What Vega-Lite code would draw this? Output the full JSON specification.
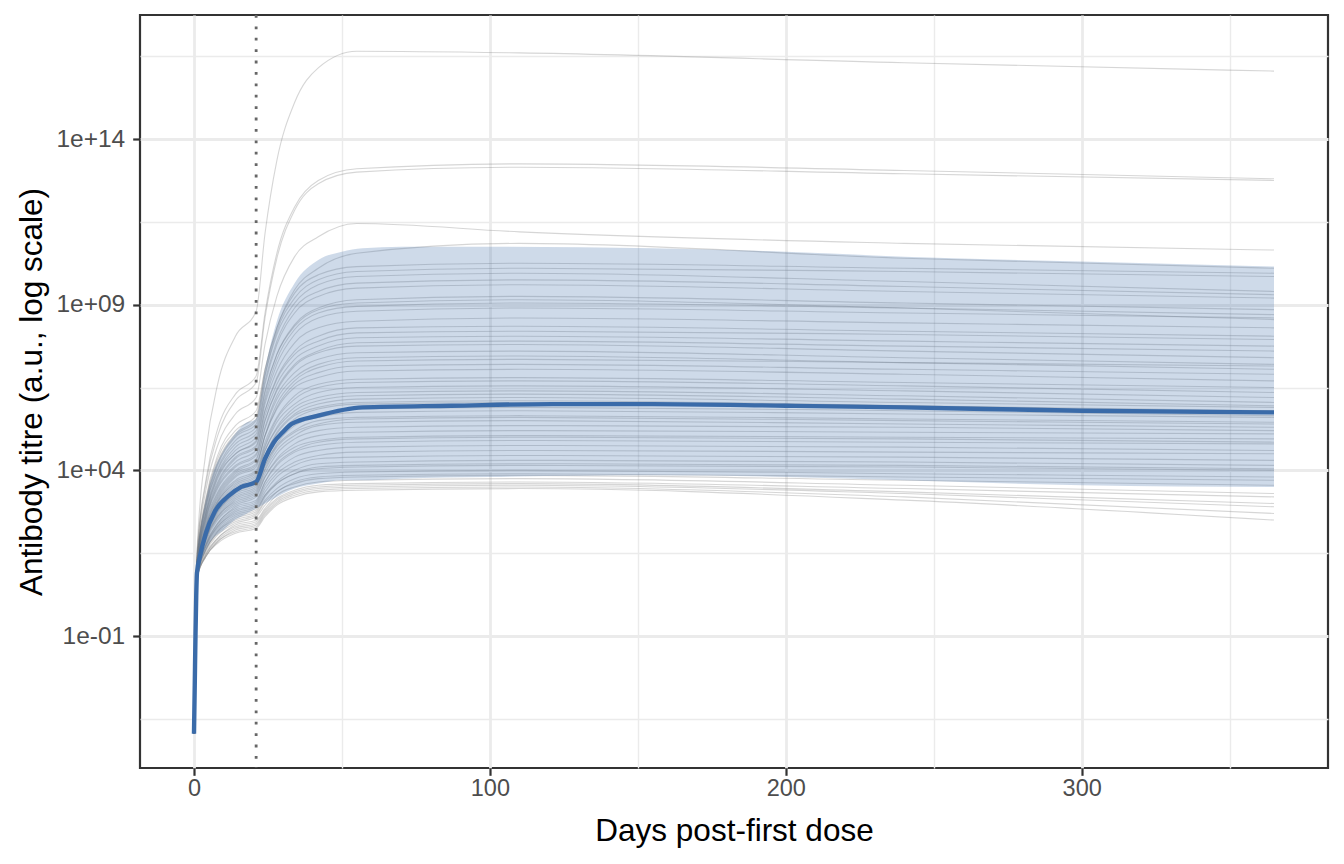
{
"$schema":"https://vega.github.io/schema/vega-lite/v6.json",
"width":1188,"height":753,
"autosize":{"type":"none"},
"padding":{"left":140,"top":15,"right":16,"bottom":96},
"background":"white",
"config":{
 "view":{"stroke":"#333333","strokeWidth":2.2},
 "font":"Liberation Sans",
 "axis":{"domain":false,"grid":true,"gridColor":"#EBEBEB","tickColor":"#333333","tickWidth":2.2,"tickSize":7.3,"labelColor":"#4D4D4D","labelFont":"Liberation Sans","labelFontSize":23.5,"titleFont":"Liberation Sans","titleFontSize":31.5,"titleFontWeight":"normal","titleColor":"#000000","labelOverlap":false,"labelFlush":false},
 "axisX":{"labelPadding":1,"titlePadding":16},
 "axisY":{"labelPadding":8,"titlePadding":7,"labelFontSize":24.5}
},
"datasets":{
"lines":[
{"id":1,"day":0,"titre":1.12e-4},{"id":1,"day":1,"titre":3.16e1},{"id":1,"day":4,"titre":3.55e4},{"id":1,"day":8,"titre":3.98e6},{"id":1,"day":14,"titre":1.12e8},{"id":1,"day":21,"titre":6.31e8},{"id":1,"day":24,"titre":1.41e11},{"id":1,"day":28,"titre":2.24e13},{"id":1,"day":34,"titre":1.26e15},{"id":1,"day":42,"titre":1.41e16},{"id":1,"day":55,"titre":4.47e16},{"id":1,"day":110,"titre":3.98e16},{"id":1,"day":240,"titre":2e16},{"id":1,"day":365,"titre":1.12e16},
{"id":2,"day":0,"titre":1.12e-4},{"id":2,"day":1,"titre":2.82e1},{"id":2,"day":4,"titre":5.01e3},{"id":2,"day":8,"titre":1.78e5},{"id":2,"day":14,"titre":2e6},{"id":2,"day":21,"titre":7.08e6},{"id":2,"day":24,"titre":5.62e8},{"id":2,"day":28,"titre":3.55e10},{"id":2,"day":34,"titre":8.91e11},{"id":2,"day":42,"titre":5.62e12},{"id":2,"day":55,"titre":1.26e13},{"id":2,"day":110,"titre":1.78e13},{"id":2,"day":240,"titre":1.12e13},{"id":2,"day":365,"titre":6.31e12},
{"id":3,"day":0,"titre":1.12e-4},{"id":3,"day":1,"titre":2.51e1},{"id":3,"day":4,"titre":3.98e3},{"id":3,"day":8,"titre":1.12e5},{"id":3,"day":14,"titre":1.26e6},{"id":3,"day":21,"titre":4.47e6},{"id":3,"day":24,"titre":3.98e8},{"id":3,"day":28,"titre":2.51e10},{"id":3,"day":34,"titre":7.08e11},{"id":3,"day":42,"titre":4.47e12},{"id":3,"day":55,"titre":1e13},{"id":3,"day":110,"titre":1.41e13},{"id":3,"day":240,"titre":8.91e12},{"id":3,"day":365,"titre":5.62e12},
{"id":4,"day":0,"titre":1.12e-4},{"id":4,"day":1,"titre":2.24e1},{"id":4,"day":4,"titre":2.51e3},{"id":4,"day":8,"titre":5.62e4},{"id":4,"day":14,"titre":5.01e5},{"id":4,"day":21,"titre":1.58e6},{"id":4,"day":24,"titre":6.31e7},{"id":4,"day":28,"titre":1.78e9},{"id":4,"day":34,"titre":2.82e10},{"id":4,"day":42,"titre":1.12e11},{"id":4,"day":55,"titre":2.82e11},{"id":4,"day":110,"titre":1.58e11},{"id":4,"day":240,"titre":7.08e10},{"id":4,"day":365,"titre":4.47e10},
{"id":5,"day":0,"titre":1.12e-4},{"id":5,"day":1,"titre":1.78e1},{"id":5,"day":4,"titre":1.41e3},{"id":5,"day":8,"titre":2.82e4},{"id":5,"day":14,"titre":2.24e5},{"id":5,"day":21,"titre":6.31e5},{"id":5,"day":24,"titre":1.12e7},{"id":5,"day":28,"titre":2e8},{"id":5,"day":34,"titre":2.82e9},{"id":5,"day":42,"titre":1.26e10},{"id":5,"day":55,"titre":3.55e10},{"id":5,"day":110,"titre":7.08e10},{"id":5,"day":240,"titre":2.51e10},{"id":5,"day":365,"titre":1.26e10},
{"id":6,"day":0,"titre":1.12e-4},{"id":6,"day":1,"titre":1.78e1},{"id":6,"day":4,"titre":1.26e3},{"id":6,"day":8,"titre":2.24e4},{"id":6,"day":14,"titre":1.58e5},{"id":6,"day":21,"titre":4.47e5},{"id":6,"day":24,"titre":1.12e7},{"id":6,"day":28,"titre":2e8},{"id":6,"day":34,"titre":2.24e9},{"id":6,"day":42,"titre":7.94e9},{"id":6,"day":55,"titre":1.41e10},{"id":6,"day":110,"titre":1.78e10},{"id":6,"day":240,"titre":1.26e10},{"id":6,"day":365,"titre":8.91e9},
{"id":7,"day":0,"titre":1.12e-4},{"id":7,"day":1,"titre":1.78e1},{"id":7,"day":4,"titre":1.12e3},{"id":7,"day":8,"titre":1.78e4},{"id":7,"day":14,"titre":1.26e5},{"id":7,"day":21,"titre":3.55e5},{"id":7,"day":24,"titre":7.94e6},{"id":7,"day":28,"titre":1.58e8},{"id":7,"day":34,"titre":1.58e9},{"id":7,"day":42,"titre":5.62e9},{"id":7,"day":55,"titre":1e10},{"id":7,"day":110,"titre":1.26e10},{"id":7,"day":240,"titre":1e10},{"id":7,"day":365,"titre":7.08e9},
{"id":8,"day":0,"titre":1.12e-4},{"id":8,"day":1,"titre":1.58e1},{"id":8,"day":4,"titre":1e3},{"id":8,"day":8,"titre":1.58e4},{"id":8,"day":14,"titre":1.12e5},{"id":8,"day":21,"titre":3.16e5},{"id":8,"day":24,"titre":7.08e6},{"id":8,"day":28,"titre":1.26e8},{"id":8,"day":34,"titre":1.12e9},{"id":8,"day":42,"titre":3.98e9},{"id":8,"day":55,"titre":7.08e9},{"id":8,"day":110,"titre":8.91e9},{"id":8,"day":240,"titre":5.01e9},{"id":8,"day":365,"titre":2.51e9},
{"id":9,"day":0,"titre":1.12e-4},{"id":9,"day":1,"titre":1.58e1},{"id":9,"day":4,"titre":8.91e2},{"id":9,"day":8,"titre":1.41e4},{"id":9,"day":14,"titre":1e5},{"id":9,"day":21,"titre":2.51e5},{"id":9,"day":24,"titre":5.01e6},{"id":9,"day":28,"titre":7.94e7},{"id":9,"day":34,"titre":7.94e8},{"id":9,"day":42,"titre":2.51e9},{"id":9,"day":55,"titre":4.47e9},{"id":9,"day":110,"titre":5.62e9},{"id":9,"day":240,"titre":3.55e9},{"id":9,"day":365,"titre":2e9},
{"id":10,"day":0,"titre":1.12e-4},{"id":10,"day":1,"titre":1.58e1},{"id":10,"day":4,"titre":7.94e2},{"id":10,"day":8,"titre":1.12e4},{"id":10,"day":14,"titre":7.94e4},{"id":10,"day":21,"titre":2e5},{"id":10,"day":24,"titre":3.98e6},{"id":10,"day":28,"titre":6.31e7},{"id":10,"day":34,"titre":5.62e8},{"id":10,"day":42,"titre":1.78e9},{"id":10,"day":55,"titre":3.16e9},{"id":10,"day":110,"titre":3.98e9},{"id":10,"day":240,"titre":2.51e9},{"id":10,"day":365,"titre":1.58e9},
{"id":11,"day":0,"titre":1.12e-4},{"id":11,"day":1,"titre":1.41e1},{"id":11,"day":4,"titre":6.31e2},{"id":11,"day":8,"titre":7.94e3},{"id":11,"day":14,"titre":5.01e4},{"id":11,"day":21,"titre":1.26e5},{"id":11,"day":24,"titre":2.24e6},{"id":11,"day":28,"titre":3.16e7},{"id":11,"day":34,"titre":2.51e8},{"id":11,"day":42,"titre":7.94e8},{"id":11,"day":55,"titre":1.41e9},{"id":11,"day":110,"titre":1.78e9},{"id":11,"day":240,"titre":1.12e9},{"id":11,"day":365,"titre":7.08e8},
{"id":12,"day":0,"titre":1.12e-4},{"id":12,"day":1,"titre":1.58e1},{"id":12,"day":4,"titre":7.94e2},{"id":12,"day":8,"titre":1e4},{"id":12,"day":14,"titre":6.31e4},{"id":12,"day":21,"titre":1.58e5},{"id":12,"day":24,"titre":2.51e6},{"id":12,"day":28,"titre":3.16e7},{"id":12,"day":34,"titre":2.24e8},{"id":12,"day":42,"titre":7.08e8},{"id":12,"day":55,"titre":1.12e9},{"id":12,"day":110,"titre":1.41e9},{"id":12,"day":240,"titre":7.94e8},{"id":12,"day":365,"titre":3.55e8},
{"id":13,"day":0,"titre":1.12e-4},{"id":13,"day":1,"titre":1.41e1},{"id":13,"day":4,"titre":5.62e2},{"id":13,"day":8,"titre":7.08e3},{"id":13,"day":14,"titre":3.98e4},{"id":13,"day":21,"titre":1e5},{"id":13,"day":24,"titre":1.58e6},{"id":13,"day":28,"titre":2.24e7},{"id":13,"day":34,"titre":1.78e8},{"id":13,"day":42,"titre":5.62e8},{"id":13,"day":55,"titre":8.91e8},{"id":13,"day":110,"titre":1.12e9},{"id":13,"day":240,"titre":7.94e8},{"id":13,"day":365,"titre":5.01e8},
{"id":14,"day":0,"titre":1.12e-4},{"id":14,"day":1,"titre":1.41e1},{"id":14,"day":4,"titre":5.01e2},{"id":14,"day":8,"titre":6.31e3},{"id":14,"day":14,"titre":3.16e4},{"id":14,"day":21,"titre":7.94e4},{"id":14,"day":24,"titre":1.26e6},{"id":14,"day":28,"titre":1.58e7},{"id":14,"day":34,"titre":1.26e8},{"id":14,"day":42,"titre":3.98e8},{"id":14,"day":55,"titre":6.31e8},{"id":14,"day":110,"titre":7.94e8},{"id":14,"day":240,"titre":5.62e8},{"id":14,"day":365,"titre":3.98e8},
{"id":15,"day":0,"titre":1.12e-4},{"id":15,"day":1,"titre":1.41e1},{"id":15,"day":4,"titre":5.01e2},{"id":15,"day":8,"titre":5.62e3},{"id":15,"day":14,"titre":3.16e4},{"id":15,"day":21,"titre":7.08e4},{"id":15,"day":24,"titre":1e6},{"id":15,"day":28,"titre":1e7},{"id":15,"day":34,"titre":7.08e7},{"id":15,"day":42,"titre":2e8},{"id":15,"day":55,"titre":3.16e8},{"id":15,"day":110,"titre":3.98e8},{"id":15,"day":240,"titre":2.82e8},{"id":15,"day":365,"titre":2e8},
{"id":16,"day":0,"titre":1.12e-4},{"id":16,"day":1,"titre":1.26e1},{"id":16,"day":4,"titre":3.98e2},{"id":16,"day":8,"titre":3.98e3},{"id":16,"day":14,"titre":2.24e4},{"id":16,"day":21,"titre":5.01e4},{"id":16,"day":24,"titre":6.31e5},{"id":16,"day":28,"titre":6.31e6},{"id":16,"day":34,"titre":3.98e7},{"id":16,"day":42,"titre":1.12e8},{"id":16,"day":55,"titre":2e8},{"id":16,"day":110,"titre":2.24e8},{"id":16,"day":240,"titre":1.58e8},{"id":16,"day":365,"titre":1.12e8},
{"id":17,"day":0,"titre":1.12e-4},{"id":17,"day":1,"titre":1.26e1},{"id":17,"day":4,"titre":4.47e2},{"id":17,"day":8,"titre":4.47e3},{"id":17,"day":14,"titre":2.51e4},{"id":17,"day":21,"titre":5.62e4},{"id":17,"day":24,"titre":6.31e5},{"id":17,"day":28,"titre":5.62e6},{"id":17,"day":34,"titre":3.16e7},{"id":17,"day":42,"titre":7.94e7},{"id":17,"day":55,"titre":1.41e8},{"id":17,"day":110,"titre":1.58e8},{"id":17,"day":240,"titre":1.26e8},{"id":17,"day":365,"titre":8.91e7},
{"id":18,"day":0,"titre":1.12e-4},{"id":18,"day":1,"titre":1.26e1},{"id":18,"day":4,"titre":3.55e2},{"id":18,"day":8,"titre":3.55e3},{"id":18,"day":14,"titre":1.78e4},{"id":18,"day":21,"titre":3.98e4},{"id":18,"day":24,"titre":4.47e5},{"id":18,"day":28,"titre":3.98e6},{"id":18,"day":34,"titre":2.24e7},{"id":18,"day":42,"titre":5.62e7},{"id":18,"day":55,"titre":1e8},{"id":18,"day":110,"titre":1.12e8},{"id":18,"day":240,"titre":7.94e7},{"id":18,"day":365,"titre":5.62e7},
{"id":19,"day":0,"titre":1.12e-4},{"id":19,"day":1,"titre":1.12e1},{"id":19,"day":4,"titre":3.16e2},{"id":19,"day":8,"titre":2.82e3},{"id":19,"day":14,"titre":1.26e4},{"id":19,"day":21,"titre":2.82e4},{"id":19,"day":24,"titre":3.16e5},{"id":19,"day":28,"titre":2.82e6},{"id":19,"day":34,"titre":1.58e7},{"id":19,"day":42,"titre":3.98e7},{"id":19,"day":55,"titre":7.08e7},{"id":19,"day":110,"titre":7.94e7},{"id":19,"day":240,"titre":5.62e7},{"id":19,"day":365,"titre":3.98e7},
{"id":20,"day":0,"titre":1.12e-4},{"id":20,"day":1,"titre":1.26e1},{"id":20,"day":4,"titre":3.55e2},{"id":20,"day":8,"titre":3.16e3},{"id":20,"day":14,"titre":1.41e4},{"id":20,"day":21,"titre":3.16e4},{"id":20,"day":24,"titre":3.16e5},{"id":20,"day":28,"titre":2.51e6},{"id":20,"day":34,"titre":1.41e7},{"id":20,"day":42,"titre":3.55e7},{"id":20,"day":55,"titre":5.62e7},{"id":20,"day":110,"titre":6.31e7},{"id":20,"day":240,"titre":3.98e7},{"id":20,"day":365,"titre":2.51e7},
{"id":21,"day":0,"titre":1.12e-4},{"id":21,"day":1,"titre":1.12e1},{"id":21,"day":4,"titre":2.82e2},{"id":21,"day":8,"titre":2.24e3},{"id":21,"day":14,"titre":1e4},{"id":21,"day":21,"titre":2.24e4},{"id":21,"day":24,"titre":2e5},{"id":21,"day":28,"titre":1.78e6},{"id":21,"day":34,"titre":8.91e6},{"id":21,"day":42,"titre":2.24e7},{"id":21,"day":55,"titre":3.55e7},{"id":21,"day":110,"titre":3.98e7},{"id":21,"day":240,"titre":2.51e7},{"id":21,"day":365,"titre":1.58e7},
{"id":22,"day":0,"titre":1.12e-4},{"id":22,"day":1,"titre":1.12e1},{"id":22,"day":4,"titre":2.51e2},{"id":22,"day":8,"titre":2e3},{"id":22,"day":14,"titre":8.91e3},{"id":22,"day":21,"titre":2e4},{"id":22,"day":24,"titre":1.78e5},{"id":22,"day":28,"titre":1.41e6},{"id":22,"day":34,"titre":6.31e6},{"id":22,"day":42,"titre":1.58e7},{"id":22,"day":55,"titre":2.51e7},{"id":22,"day":110,"titre":2.82e7},{"id":22,"day":240,"titre":1.78e7},{"id":22,"day":365,"titre":1.12e7},
{"id":23,"day":0,"titre":1.12e-4},{"id":23,"day":1,"titre":1e1},{"id":23,"day":4,"titre":2e2},{"id":23,"day":8,"titre":1.41e3},{"id":23,"day":14,"titre":6.31e3},{"id":23,"day":21,"titre":1.26e4},{"id":23,"day":24,"titre":1.12e5},{"id":23,"day":28,"titre":1e6},{"id":23,"day":34,"titre":5.01e6},{"id":23,"day":42,"titre":1.26e7},{"id":23,"day":55,"titre":2e7},{"id":23,"day":110,"titre":2.24e7},{"id":23,"day":240,"titre":1.78e7},{"id":23,"day":365,"titre":1.41e7},
{"id":24,"day":0,"titre":1.12e-4},{"id":24,"day":1,"titre":1e1},{"id":24,"day":4,"titre":2e2},{"id":24,"day":8,"titre":1.58e3},{"id":24,"day":14,"titre":7.08e3},{"id":24,"day":21,"titre":1.41e4},{"id":24,"day":24,"titre":1.12e5},{"id":24,"day":28,"titre":7.94e5},{"id":24,"day":34,"titre":3.98e6},{"id":24,"day":42,"titre":8.91e6},{"id":24,"day":55,"titre":1.41e7},{"id":24,"day":110,"titre":1.58e7},{"id":24,"day":240,"titre":1.12e7},{"id":24,"day":365,"titre":7.94e6},
{"id":25,"day":0,"titre":1.12e-4},{"id":25,"day":1,"titre":1.12e1},{"id":25,"day":4,"titre":2.24e2},{"id":25,"day":8,"titre":1.78e3},{"id":25,"day":14,"titre":7.94e3},{"id":25,"day":21,"titre":1.58e4},{"id":25,"day":24,"titre":1.12e5},{"id":25,"day":28,"titre":7.08e5},{"id":25,"day":34,"titre":3.16e6},{"id":25,"day":42,"titre":6.31e6},{"id":25,"day":55,"titre":1e7},{"id":25,"day":110,"titre":1.12e7},{"id":25,"day":240,"titre":7.94e6},{"id":25,"day":365,"titre":5.01e6},
{"id":26,"day":0,"titre":1.12e-4},{"id":26,"day":1,"titre":1e1},{"id":26,"day":4,"titre":1.78e2},{"id":26,"day":8,"titre":1.26e3},{"id":26,"day":14,"titre":5.01e3},{"id":26,"day":21,"titre":1e4},{"id":26,"day":24,"titre":7.08e4},{"id":26,"day":28,"titre":3.98e5},{"id":26,"day":34,"titre":1.78e6},{"id":26,"day":42,"titre":3.98e6},{"id":26,"day":55,"titre":5.62e6},{"id":26,"day":110,"titre":6.31e6},{"id":26,"day":240,"titre":4.47e6},{"id":26,"day":365,"titre":3.16e6},
{"id":27,"day":0,"titre":1.12e-4},{"id":27,"day":1,"titre":1e1},{"id":27,"day":4,"titre":1.78e2},{"id":27,"day":8,"titre":1.12e3},{"id":27,"day":14,"titre":4.47e3},{"id":27,"day":21,"titre":8.91e3},{"id":27,"day":24,"titre":5.62e4},{"id":27,"day":28,"titre":3.55e5},{"id":27,"day":34,"titre":1.41e6},{"id":27,"day":42,"titre":3.16e6},{"id":27,"day":55,"titre":4.47e6},{"id":27,"day":110,"titre":5.01e6},{"id":27,"day":240,"titre":3.55e6},{"id":27,"day":365,"titre":2.24e6},
{"id":28,"day":0,"titre":1.12e-4},{"id":28,"day":1,"titre":1e1},{"id":28,"day":4,"titre":1.58e2},{"id":28,"day":8,"titre":1.12e3},{"id":28,"day":14,"titre":3.98e3},{"id":28,"day":21,"titre":7.94e3},{"id":28,"day":24,"titre":5.01e4},{"id":28,"day":28,"titre":2.82e5},{"id":28,"day":34,"titre":1e6},{"id":28,"day":42,"titre":2.24e6},{"id":28,"day":55,"titre":3.16e6},{"id":28,"day":110,"titre":3.55e6},{"id":28,"day":240,"titre":2.51e6},{"id":28,"day":365,"titre":1.58e6},
{"id":29,"day":0,"titre":1.12e-4},{"id":29,"day":1,"titre":8.91e0},{"id":29,"day":4,"titre":1.41e2},{"id":29,"day":8,"titre":8.91e2},{"id":29,"day":14,"titre":3.16e3},{"id":29,"day":21,"titre":6.31e3},{"id":29,"day":24,"titre":3.98e4},{"id":29,"day":28,"titre":2e5},{"id":29,"day":34,"titre":7.94e5},{"id":29,"day":42,"titre":1.58e6},{"id":29,"day":55,"titre":2.24e6},{"id":29,"day":110,"titre":2.51e6},{"id":29,"day":240,"titre":1.78e6},{"id":29,"day":365,"titre":1.12e6},
{"id":30,"day":0,"titre":1.12e-4},{"id":30,"day":1,"titre":1e1},{"id":30,"day":4,"titre":1.58e2},{"id":30,"day":8,"titre":1e3},{"id":30,"day":14,"titre":3.55e3},{"id":30,"day":21,"titre":7.08e3},{"id":30,"day":24,"titre":3.98e4},{"id":30,"day":28,"titre":1.78e5},{"id":30,"day":34,"titre":6.31e5},{"id":30,"day":42,"titre":1.26e6},{"id":30,"day":55,"titre":1.78e6},{"id":30,"day":110,"titre":2e6},{"id":30,"day":240,"titre":1.41e6},{"id":30,"day":365,"titre":8.91e5},
{"id":31,"day":0,"titre":1.12e-4},{"id":31,"day":1,"titre":8.91e0},{"id":31,"day":4,"titre":1.26e2},{"id":31,"day":8,"titre":7.94e2},{"id":31,"day":14,"titre":2.51e3},{"id":31,"day":21,"titre":5.01e3},{"id":31,"day":24,"titre":2.82e4},{"id":31,"day":28,"titre":1.41e5},{"id":31,"day":34,"titre":5.01e5},{"id":31,"day":42,"titre":1e6},{"id":31,"day":55,"titre":1.41e6},{"id":31,"day":110,"titre":1.58e6},{"id":31,"day":240,"titre":1.12e6},{"id":31,"day":365,"titre":7.94e5},
{"id":32,"day":0,"titre":1.12e-4},{"id":32,"day":1,"titre":8.91e0},{"id":32,"day":4,"titre":1.41e2},{"id":32,"day":8,"titre":7.94e2},{"id":32,"day":14,"titre":2.82e3},{"id":32,"day":21,"titre":5.62e3},{"id":32,"day":24,"titre":2.82e4},{"id":32,"day":28,"titre":1.26e5},{"id":32,"day":34,"titre":4.47e5},{"id":32,"day":42,"titre":7.94e5},{"id":32,"day":55,"titre":1.12e6},{"id":32,"day":110,"titre":1.26e6},{"id":32,"day":240,"titre":8.91e5},{"id":32,"day":365,"titre":5.62e5},
{"id":33,"day":0,"titre":1.12e-4},{"id":33,"day":1,"titre":8.91e0},{"id":33,"day":4,"titre":1.12e2},{"id":33,"day":8,"titre":6.31e2},{"id":33,"day":14,"titre":2.24e3},{"id":33,"day":21,"titre":3.98e3},{"id":33,"day":24,"titre":2.24e4},{"id":33,"day":28,"titre":1e5},{"id":33,"day":34,"titre":3.55e5},{"id":33,"day":42,"titre":7.08e5},{"id":33,"day":55,"titre":1e6},{"id":33,"day":110,"titre":1.12e6},{"id":33,"day":240,"titre":8.91e5},{"id":33,"day":365,"titre":6.31e5},
{"id":34,"day":0,"titre":1.12e-4},{"id":34,"day":1,"titre":8.91e0},{"id":34,"day":4,"titre":1.12e2},{"id":34,"day":8,"titre":5.62e2},{"id":34,"day":14,"titre":2e3},{"id":34,"day":21,"titre":3.55e3},{"id":34,"day":24,"titre":1.78e4},{"id":34,"day":28,"titre":7.94e4},{"id":34,"day":34,"titre":2.82e5},{"id":34,"day":42,"titre":5.01e5},{"id":34,"day":55,"titre":7.08e5},{"id":34,"day":110,"titre":7.94e5},{"id":34,"day":240,"titre":6.31e5},{"id":34,"day":365,"titre":4.47e5},
{"id":35,"day":0,"titre":1.12e-4},{"id":35,"day":1,"titre":7.94e0},{"id":35,"day":4,"titre":8.91e1},{"id":35,"day":8,"titre":5.01e2},{"id":35,"day":14,"titre":1.58e3},{"id":35,"day":21,"titre":2.82e3},{"id":35,"day":24,"titre":1.41e4},{"id":35,"day":28,"titre":6.31e4},{"id":35,"day":34,"titre":2.24e5},{"id":35,"day":42,"titre":3.98e5},{"id":35,"day":55,"titre":5.62e5},{"id":35,"day":110,"titre":6.31e5},{"id":35,"day":240,"titre":5.01e5},{"id":35,"day":365,"titre":3.98e5},
{"id":36,"day":0,"titre":1.12e-4},{"id":36,"day":1,"titre":8.91e0},{"id":36,"day":4,"titre":1e2},{"id":36,"day":8,"titre":5.62e2},{"id":36,"day":14,"titre":1.78e3},{"id":36,"day":21,"titre":3.16e3},{"id":36,"day":24,"titre":1.41e4},{"id":36,"day":28,"titre":5.62e4},{"id":36,"day":34,"titre":1.58e5},{"id":36,"day":42,"titre":3.16e5},{"id":36,"day":55,"titre":3.98e5},{"id":36,"day":110,"titre":4.47e5},{"id":36,"day":240,"titre":3.55e5},{"id":36,"day":365,"titre":2.82e5},
{"id":37,"day":0,"titre":1.12e-4},{"id":37,"day":1,"titre":7.94e0},{"id":37,"day":4,"titre":8.91e1},{"id":37,"day":8,"titre":4.47e2},{"id":37,"day":14,"titre":1.41e3},{"id":37,"day":21,"titre":2.51e3},{"id":37,"day":24,"titre":1.12e4},{"id":37,"day":28,"titre":5.01e4},{"id":37,"day":34,"titre":1.41e5},{"id":37,"day":42,"titre":2.51e5},{"id":37,"day":55,"titre":3.55e5},{"id":37,"day":110,"titre":3.98e5},{"id":37,"day":240,"titre":3.16e5},{"id":37,"day":365,"titre":2.51e5},
{"id":38,"day":0,"titre":1.12e-4},{"id":38,"day":1,"titre":7.94e0},{"id":38,"day":4,"titre":8.91e1},{"id":38,"day":8,"titre":3.98e2},{"id":38,"day":14,"titre":1.26e3},{"id":38,"day":21,"titre":2.24e3},{"id":38,"day":24,"titre":1e4},{"id":38,"day":28,"titre":3.98e4},{"id":38,"day":34,"titre":1.12e5},{"id":38,"day":42,"titre":2.24e5},{"id":38,"day":55,"titre":2.82e5},{"id":38,"day":110,"titre":3.16e5},{"id":38,"day":240,"titre":2.51e5},{"id":38,"day":365,"titre":2e5},
{"id":39,"day":0,"titre":1.12e-4},{"id":39,"day":1,"titre":7.94e0},{"id":39,"day":4,"titre":7.94e1},{"id":39,"day":8,"titre":3.98e2},{"id":39,"day":14,"titre":1.12e3},{"id":39,"day":21,"titre":2e3},{"id":39,"day":24,"titre":7.94e3},{"id":39,"day":28,"titre":3.16e4},{"id":39,"day":34,"titre":8.91e4},{"id":39,"day":42,"titre":1.58e5},{"id":39,"day":55,"titre":2e5},{"id":39,"day":110,"titre":2.24e5},{"id":39,"day":240,"titre":2e5},{"id":39,"day":365,"titre":1.58e5},
{"id":40,"day":0,"titre":1.12e-4},{"id":40,"day":1,"titre":7.94e0},{"id":40,"day":4,"titre":7.08e1},{"id":40,"day":8,"titre":3.16e2},{"id":40,"day":14,"titre":8.91e2},{"id":40,"day":21,"titre":1.58e3},{"id":40,"day":24,"titre":6.31e3},{"id":40,"day":28,"titre":2.24e4},{"id":40,"day":34,"titre":6.31e4},{"id":40,"day":42,"titre":1.12e5},{"id":40,"day":55,"titre":1.41e5},{"id":40,"day":110,"titre":1.58e5},{"id":40,"day":240,"titre":1.41e5},{"id":40,"day":365,"titre":1.26e5},
{"id":41,"day":0,"titre":1.12e-4},{"id":41,"day":1,"titre":7.94e0},{"id":41,"day":4,"titre":7.94e1},{"id":41,"day":8,"titre":3.55e2},{"id":41,"day":14,"titre":1e3},{"id":41,"day":21,"titre":1.78e3},{"id":41,"day":24,"titre":6.31e3},{"id":41,"day":28,"titre":2e4},{"id":41,"day":34,"titre":5.01e4},{"id":41,"day":42,"titre":7.94e4},{"id":41,"day":55,"titre":1e5},{"id":41,"day":110,"titre":1.12e5},{"id":41,"day":240,"titre":1e5},{"id":41,"day":365,"titre":8.91e4},
{"id":42,"day":0,"titre":1.12e-4},{"id":42,"day":1,"titre":7.08e0},{"id":42,"day":4,"titre":5.62e1},{"id":42,"day":8,"titre":2.51e2},{"id":42,"day":14,"titre":7.08e2},{"id":42,"day":21,"titre":1.12e3},{"id":42,"day":24,"titre":4.47e3},{"id":42,"day":28,"titre":1.58e4},{"id":42,"day":34,"titre":3.98e4},{"id":42,"day":42,"titre":7.08e4},{"id":42,"day":55,"titre":8.91e4},{"id":42,"day":110,"titre":1e5},{"id":42,"day":240,"titre":8.91e4},{"id":42,"day":365,"titre":7.08e4},
{"id":43,"day":0,"titre":1.12e-4},{"id":43,"day":1,"titre":7.08e0},{"id":43,"day":4,"titre":6.31e1},{"id":43,"day":8,"titre":2.51e2},{"id":43,"day":14,"titre":7.94e2},{"id":43,"day":21,"titre":1.26e3},{"id":43,"day":24,"titre":4.47e3},{"id":43,"day":28,"titre":1.41e4},{"id":43,"day":34,"titre":3.55e4},{"id":43,"day":42,"titre":5.62e4},{"id":43,"day":55,"titre":7.08e4},{"id":43,"day":110,"titre":7.94e4},{"id":43,"day":240,"titre":7.08e4},{"id":43,"day":365,"titre":6.31e4},
{"id":44,"day":0,"titre":1.12e-4},{"id":44,"day":1,"titre":7.08e0},{"id":44,"day":4,"titre":5.62e1},{"id":44,"day":8,"titre":2.24e2},{"id":44,"day":14,"titre":6.31e2},{"id":44,"day":21,"titre":1e3},{"id":44,"day":24,"titre":3.55e3},{"id":44,"day":28,"titre":1e4},{"id":44,"day":34,"titre":2.51e4},{"id":44,"day":42,"titre":3.98e4},{"id":44,"day":55,"titre":5.01e4},{"id":44,"day":110,"titre":5.62e4},{"id":44,"day":240,"titre":5.01e4},{"id":44,"day":365,"titre":3.98e4},
{"id":45,"day":0,"titre":1.12e-4},{"id":45,"day":1,"titre":7.08e0},{"id":45,"day":4,"titre":5.62e1},{"id":45,"day":8,"titre":2e2},{"id":45,"day":14,"titre":5.62e2},{"id":45,"day":21,"titre":8.91e2},{"id":45,"day":24,"titre":2.82e3},{"id":45,"day":28,"titre":7.94e3},{"id":45,"day":34,"titre":1.78e4},{"id":45,"day":42,"titre":2.82e4},{"id":45,"day":55,"titre":3.55e4},{"id":45,"day":110,"titre":3.98e4},{"id":45,"day":240,"titre":3.55e4},{"id":45,"day":365,"titre":3.16e4},
{"id":46,"day":0,"titre":1.12e-4},{"id":46,"day":1,"titre":7.08e0},{"id":46,"day":4,"titre":5.01e1},{"id":46,"day":8,"titre":2e2},{"id":46,"day":14,"titre":5.01e2},{"id":46,"day":21,"titre":7.94e2},{"id":46,"day":24,"titre":2.24e3},{"id":46,"day":28,"titre":6.31e3},{"id":46,"day":34,"titre":1.41e4},{"id":46,"day":42,"titre":2.24e4},{"id":46,"day":55,"titre":2.51e4},{"id":46,"day":110,"titre":2.82e4},{"id":46,"day":240,"titre":2.51e4},{"id":46,"day":365,"titre":2e4},
{"id":47,"day":0,"titre":1.12e-4},{"id":47,"day":1,"titre":6.31e0},{"id":47,"day":4,"titre":4.47e1},{"id":47,"day":8,"titre":1.58e2},{"id":47,"day":14,"titre":3.98e2},{"id":47,"day":21,"titre":6.31e2},{"id":47,"day":24,"titre":1.78e3},{"id":47,"day":28,"titre":4.47e3},{"id":47,"day":34,"titre":1e4},{"id":47,"day":42,"titre":1.58e4},{"id":47,"day":55,"titre":1.78e4},{"id":47,"day":110,"titre":2e4},{"id":47,"day":240,"titre":1.78e4},{"id":47,"day":365,"titre":1.41e4},
{"id":48,"day":0,"titre":1.12e-4},{"id":48,"day":1,"titre":6.31e0},{"id":48,"day":4,"titre":3.98e1},{"id":48,"day":8,"titre":1.41e2},{"id":48,"day":14,"titre":3.55e2},{"id":48,"day":21,"titre":5.62e2},{"id":48,"day":24,"titre":1.58e3},{"id":48,"day":28,"titre":3.98e3},{"id":48,"day":34,"titre":7.94e3},{"id":48,"day":42,"titre":1.26e4},{"id":48,"day":55,"titre":1.41e4},{"id":48,"day":110,"titre":1.58e4},{"id":48,"day":240,"titre":1.41e4},{"id":48,"day":365,"titre":1.12e4},
{"id":49,"day":0,"titre":1.12e-4},{"id":49,"day":1,"titre":7.08e0},{"id":49,"day":4,"titre":5.01e1},{"id":49,"day":8,"titre":1.78e2},{"id":49,"day":14,"titre":4.47e2},{"id":49,"day":21,"titre":7.08e2},{"id":49,"day":24,"titre":1.78e3},{"id":49,"day":28,"titre":3.98e3},{"id":49,"day":34,"titre":7.94e3},{"id":49,"day":42,"titre":1.12e4},{"id":49,"day":55,"titre":1.26e4},{"id":49,"day":110,"titre":1.41e4},{"id":49,"day":240,"titre":1.26e4},{"id":49,"day":365,"titre":1e4},
{"id":50,"day":0,"titre":1.12e-4},{"id":50,"day":1,"titre":6.31e0},{"id":50,"day":4,"titre":3.98e1},{"id":50,"day":8,"titre":1.41e2},{"id":50,"day":14,"titre":3.16e2},{"id":50,"day":21,"titre":5.01e2},{"id":50,"day":24,"titre":1.26e3},{"id":50,"day":28,"titre":2.82e3},{"id":50,"day":34,"titre":5.62e3},{"id":50,"day":42,"titre":7.94e3},{"id":50,"day":55,"titre":8.91e3},{"id":50,"day":110,"titre":1e4},{"id":50,"day":240,"titre":7.94e3},{"id":50,"day":365,"titre":6.31e3},
{"id":51,"day":0,"titre":1.12e-4},{"id":51,"day":1,"titre":6.31e0},{"id":51,"day":4,"titre":3.98e1},{"id":51,"day":8,"titre":1.26e2},{"id":51,"day":14,"titre":2.82e2},{"id":51,"day":21,"titre":4.47e2},{"id":51,"day":24,"titre":1.12e3},{"id":51,"day":28,"titre":2.24e3},{"id":51,"day":34,"titre":4.47e3},{"id":51,"day":42,"titre":6.31e3},{"id":51,"day":55,"titre":7.08e3},{"id":51,"day":110,"titre":7.94e3},{"id":51,"day":240,"titre":6.31e3},{"id":51,"day":365,"titre":5.01e3},
{"id":52,"day":0,"titre":1.12e-4},{"id":52,"day":1,"titre":6.31e0},{"id":52,"day":4,"titre":3.55e1},{"id":52,"day":8,"titre":1.12e2},{"id":52,"day":14,"titre":2.51e2},{"id":52,"day":21,"titre":3.98e2},{"id":52,"day":24,"titre":8.91e2},{"id":52,"day":28,"titre":2.24e3},{"id":52,"day":34,"titre":3.98e3},{"id":52,"day":42,"titre":5.62e3},{"id":52,"day":55,"titre":6.31e3},{"id":52,"day":110,"titre":7.08e3},{"id":52,"day":240,"titre":5.01e3},{"id":52,"day":365,"titre":3.55e3},
{"id":53,"day":0,"titre":1.12e-4},{"id":53,"day":1,"titre":5.62e0},{"id":53,"day":4,"titre":3.16e1},{"id":53,"day":8,"titre":8.91e1},{"id":53,"day":14,"titre":2.24e2},{"id":53,"day":21,"titre":3.16e2},{"id":53,"day":24,"titre":7.08e2},{"id":53,"day":28,"titre":1.78e3},{"id":53,"day":34,"titre":3.16e3},{"id":53,"day":42,"titre":4.47e3},{"id":53,"day":55,"titre":5.01e3},{"id":53,"day":110,"titre":5.62e3},{"id":53,"day":240,"titre":3.55e3},{"id":53,"day":365,"titre":2e3},
{"id":54,"day":0,"titre":1.12e-4},{"id":54,"day":1,"titre":5.62e0},{"id":54,"day":4,"titre":2.82e1},{"id":54,"day":8,"titre":8.91e1},{"id":54,"day":14,"titre":2e2},{"id":54,"day":21,"titre":2.82e2},{"id":54,"day":24,"titre":6.31e2},{"id":54,"day":28,"titre":1.41e3},{"id":54,"day":34,"titre":2.51e3},{"id":54,"day":42,"titre":3.55e3},{"id":54,"day":55,"titre":3.98e3},{"id":54,"day":110,"titre":4.47e3},{"id":54,"day":240,"titre":2.82e3},{"id":54,"day":365,"titre":1.58e3},
{"id":55,"day":0,"titre":1.12e-4},{"id":55,"day":1,"titre":5.62e0},{"id":55,"day":4,"titre":2.82e1},{"id":55,"day":8,"titre":7.94e1},{"id":55,"day":14,"titre":1.78e2},{"id":55,"day":21,"titre":2.51e2},{"id":55,"day":24,"titre":5.62e2},{"id":55,"day":28,"titre":1.26e3},{"id":55,"day":34,"titre":2.24e3},{"id":55,"day":42,"titre":3.16e3},{"id":55,"day":55,"titre":3.55e3},{"id":55,"day":110,"titre":3.98e3},{"id":55,"day":240,"titre":2.24e3},{"id":55,"day":365,"titre":1e3},
{"id":56,"day":0,"titre":1.12e-4},{"id":56,"day":1,"titre":5.62e0},{"id":56,"day":4,"titre":2.51e1},{"id":56,"day":8,"titre":7.08e1},{"id":56,"day":14,"titre":1.58e2},{"id":56,"day":21,"titre":2.24e2},{"id":56,"day":24,"titre":5.01e2},{"id":56,"day":28,"titre":1.12e3},{"id":56,"day":34,"titre":2e3},{"id":56,"day":42,"titre":2.82e3},{"id":56,"day":55,"titre":3.16e3},{"id":56,"day":110,"titre":3.55e3},{"id":56,"day":240,"titre":2e3},{"id":56,"day":365,"titre":7.94e2},
{"id":57,"day":0,"titre":1.12e-4},{"id":57,"day":1,"titre":5.62e0},{"id":57,"day":4,"titre":2.51e1},{"id":57,"day":8,"titre":7.08e1},{"id":57,"day":14,"titre":1.41e2},{"id":57,"day":21,"titre":2e2},{"id":57,"day":24,"titre":4.47e2},{"id":57,"day":28,"titre":1e3},{"id":57,"day":34,"titre":1.78e3},{"id":57,"day":42,"titre":2.51e3},{"id":57,"day":55,"titre":2.82e3},{"id":57,"day":110,"titre":3.16e3},{"id":57,"day":240,"titre":1.58e3},{"id":57,"day":365,"titre":5.01e2},
{"id":58,"day":0,"titre":1.12e-4},{"id":58,"day":1,"titre":5.62e0},{"id":58,"day":4,"titre":2.51e1},{"id":58,"day":8,"titre":6.31e1},{"id":58,"day":14,"titre":1.26e2},{"id":58,"day":21,"titre":1.78e2},{"id":58,"day":24,"titre":3.98e2},{"id":58,"day":28,"titre":8.91e2},{"id":58,"day":34,"titre":1.58e3},{"id":58,"day":42,"titre":2.24e3},{"id":58,"day":55,"titre":2.51e3},{"id":58,"day":110,"titre":2.82e3},{"id":58,"day":240,"titre":1.26e3},{"id":58,"day":365,"titre":3.16e2}
],
"band":[
{"day":0,"lower":1.12e-4,"upper":1.12e-4},{"day":1,"lower":3.98e0,"upper":2e1},{"day":2.3,"lower":1.58e1,"upper":2e2},{"day":4,"lower":3.98e1,"upper":1.26e3},{"day":6,"lower":7.94e1,"upper":6.31e3},{"day":10,"lower":1.58e2,"upper":3.98e4},{"day":13,"lower":2.82e2,"upper":1e5},{"day":17,"lower":4.47e2,"upper":2.51e5},{"day":21,"lower":7.08e2,"upper":3.55e5},{"day":24,"lower":1e3,"upper":1.12e7},{"day":28,"lower":1.58e3,"upper":3.16e8},{"day":34,"lower":2.82e3,"upper":4.47e9},{"day":42,"lower":3.98e3,"upper":2.24e10},{"day":50,"lower":5.01e3,"upper":3.98e10},{"day":57,"lower":5.01e3,"upper":5.01e10},{"day":70,"lower":5.62e3,"upper":5.62e10},{"day":100,"lower":6.31e3,"upper":5.62e10},{"day":155,"lower":7.08e3,"upper":5.01e10},{"day":200,"lower":6.31e3,"upper":3.98e10},{"day":240,"lower":5.01e3,"upper":2.82e10},{"day":300,"lower":3.55e3,"upper":2e10},{"day":365,"lower":3.16e3,"upper":1.41e10}
],
"median":[
{"day":0,"titre":1.12e-4},{"day":0.25,"titre":3.16e-3},{"day":0.5,"titre":1e-1},{"day":0.75,"titre":1.58e0},{"day":1,"titre":7.94e0},{"day":2,"titre":2.51e1},{"day":4,"titre":1.26e2},{"day":7,"titre":5.62e2},{"day":12,"titre":1.78e3},{"day":16,"titre":3.16e3},{"day":21,"titre":4.47e3},{"day":24,"titre":2.24e4},{"day":27,"titre":7.08e4},{"day":30,"titre":1.41e5},{"day":33,"titre":2.51e5},{"day":42,"titre":4.47e5},{"day":57,"titre":7.94e5},{"day":87,"titre":8.91e5},{"day":121,"titre":1e6},{"day":155,"titre":1e6},{"day":200,"titre":8.91e5},{"day":240,"titre":7.94e5},{"day":300,"titre":6.31e5},{"day":365,"titre":5.62e5}
]
},
"layer":[
{
 "data":{"name":"lines"},
 "mark":{"type":"line","interpolate":"monotone","stroke":"#808080","strokeOpacity":0.32,"strokeWidth":1.1},
 "encoding":{
  "x":{"field":"day","type":"quantitative","scale":{"type":"linear","domain":[-18.25,383.25],"nice":false,"zero":false},
   "axis":{"title":"Days post-first dose","values":[0,50,100,150,200,250,300,350],
    "labelExpr":"datum.value % 100 == 0 ? datum.label : ''",
    "gridWidth":{"condition":{"test":"datum.value % 100 != 0","value":1.4},"value":2.8},
    "tickOpacity":{"condition":{"test":"datum.value % 100 != 0","value":0},"value":1}}},
  "y":{"field":"titre","type":"quantitative","scale":{"type":"log","domain":[1.04e-5,5.53e17],"nice":false},
   "axis":{"title":"Antibody titre (a.u., log scale)","values":[3.1623e-4,0.1,31.623,10000,3162277.7,1e9,3.1623e11,1e14,3.1623e16],
    "labelExpr":"abs(log(datum.value)/LN10 - round(log(datum.value)/LN10)) > 0.1 ? '' : (round(log(datum.value)/LN10) < 0 ? '1e-' : '1e+') + (abs(round(log(datum.value)/LN10)) < 10 ? '0' : '') + abs(round(log(datum.value)/LN10))",
    "gridWidth":{"condition":{"test":"abs(log(datum.value)/LN10 - round(log(datum.value)/LN10)) > 0.1","value":1.4},"value":2.8},
    "tickOpacity":{"condition":{"test":"abs(log(datum.value)/LN10 - round(log(datum.value)/LN10)) > 0.1","value":0},"value":1}}},
  "detail":{"field":"id","type":"nominal"}
 }
},
{
 "data":{"name":"band"},
 "mark":{"type":"area","interpolate":"monotone","fill":"#3A6BA9","fillOpacity":0.25},
 "encoding":{
  "x":{"field":"day","type":"quantitative","scale":{"type":"linear","domain":[-18.25,383.25],"nice":false,"zero":false}},
  "y":{"field":"lower","type":"quantitative","scale":{"type":"log","domain":[1.04e-5,5.53e17],"nice":false}},
  "y2":{"field":"upper"}
 }
},
{
 "data":{"name":"median"},
 "mark":{"type":"line","interpolate":"monotone","stroke":"#3A6BA9","strokeWidth":4.4},
 "encoding":{
  "x":{"field":"day","type":"quantitative","scale":{"type":"linear","domain":[-18.25,383.25],"nice":false,"zero":false}},
  "y":{"field":"titre","type":"quantitative","scale":{"type":"log","domain":[1.04e-5,5.53e17],"nice":false}}
 }
},
{
 "data":{"values":[{"dose2":21}]},
 "mark":{"type":"rule","stroke":"#666666","strokeWidth":2.8,"strokeDash":[2.8,8.6]},
 "encoding":{
  "x":{"field":"dose2","type":"quantitative","scale":{"type":"linear","domain":[-18.25,383.25],"nice":false,"zero":false}}
 }
}
]
}
